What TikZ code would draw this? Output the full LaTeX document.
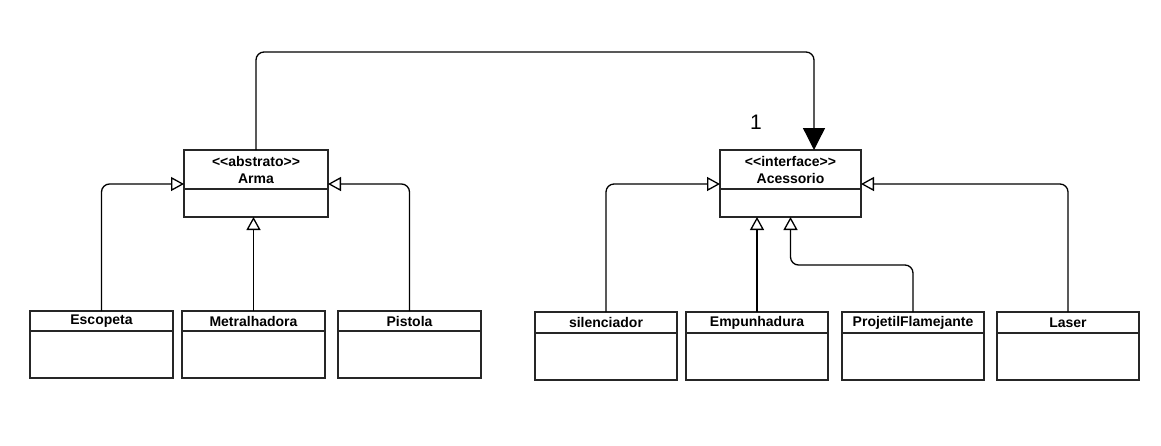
\documentclass[tikz,border=0pt]{standalone}
\usepackage{fontspec}
\setmainfont{Liberation Sans}[Ligatures=TeXOff]
\usetikzlibrary{positioning,arrows.meta}
\tikzset{
  classhead/.style={draw=black!85, line width=1.5pt, inner sep=0pt, outer sep=0pt,
    anchor=north west, align=center, font=\bfseries\fontsize{14}{17}\selectfont},
  classbody/.style={draw=black!85, line width=1.5pt, inner sep=0pt, outer sep=0pt},
  inherit/.style={-{Triangle[open,length=13pt,width=14pt]}, line width=1.3pt, rounded corners=8pt},
  assoc/.style={-{Triangle[length=22pt,width=22pt]}, line width=1.3pt, rounded corners=8pt},
}
\begin{document}
\begin{tikzpicture}[x=1pt,y=-1pt]
\useasboundingbox (0,0) rectangle (1161,445);
% superclasses
\node[classhead, minimum width=144pt, minimum height=39pt] (arma) at (184,150) {<<abstrato>>\\Arma};
\node[classbody, minimum width=144pt, minimum height=28pt, below=0pt of arma] (armab) {};
\node[classhead, minimum width=141pt, minimum height=39pt] (acess) at (720,150) {<<interface>>\\Acessorio};
\node[classbody, minimum width=141pt, minimum height=28pt, below=0pt of acess] (acessb) {};
% armas
\node[classhead, minimum width=143pt, minimum height=20pt] (escopeta) at (30,311) {Escopeta};
\node[classbody, minimum width=143pt, minimum height=47pt, below=0pt of escopeta] (escopetab) {};
\node[classhead, minimum width=143pt, minimum height=20pt] (metral) at (182,311) {Metralhadora};
\node[classbody, minimum width=143pt, minimum height=47pt, below=0pt of metral] (metralb) {};
\node[classhead, minimum width=143pt, minimum height=20pt] (pistola) at (338,311) {Pistola};
\node[classbody, minimum width=143pt, minimum height=47pt, below=0pt of pistola] (pistolab) {};
% acessorios
\node[classhead, minimum width=142pt, minimum height=21pt] (silenc) at (535,312) {silenciador};
\node[classbody, minimum width=142pt, minimum height=47pt, below=0pt of silenc] (silencb) {};
\node[classhead, minimum width=142pt, minimum height=21pt] (empunh) at (686,312) {Empunhadura};
\node[classbody, minimum width=142pt, minimum height=47pt, below=0pt of empunh] (empunhb) {};
\node[classhead, minimum width=142pt, minimum height=21pt] (projetil) at (842,312) {ProjetilFlamejante};
\node[classbody, minimum width=142pt, minimum height=47pt, below=0pt of projetil] (projetilb) {};
\node[classhead, minimum width=142pt, minimum height=21pt] (laser) at (997,312) {Laser};
\node[classbody, minimum width=142pt, minimum height=47pt, below=0pt of laser] (laserb) {};
% heranca
\draw[inherit] (escopeta.north) |- ([yshift=5pt]arma.south west);
\draw[inherit] (metral.north) -- (metral.north |- armab.south);
\draw[inherit] (pistola.north) |- ([yshift=5pt]arma.south east);
\draw[inherit] (silenc.north) |- ([yshift=5pt]acess.south west);
\draw[inherit] (empunh.north) -- (empunh.north |- acessb.south);
\draw[inherit] (projetil.north) -- ++(0,-47) -| (acessb.south);
\draw[inherit] (laser.north) |- ([yshift=5pt]acess.south east);
% associacao
\draw[assoc] (arma.north) -- ++(0,-98) -| ([xshift=94pt]acess.north west);
\node[font=\fontsize{21}{24}\selectfont] (mult) at (756,122) {1};
\end{tikzpicture}
\end{document}
